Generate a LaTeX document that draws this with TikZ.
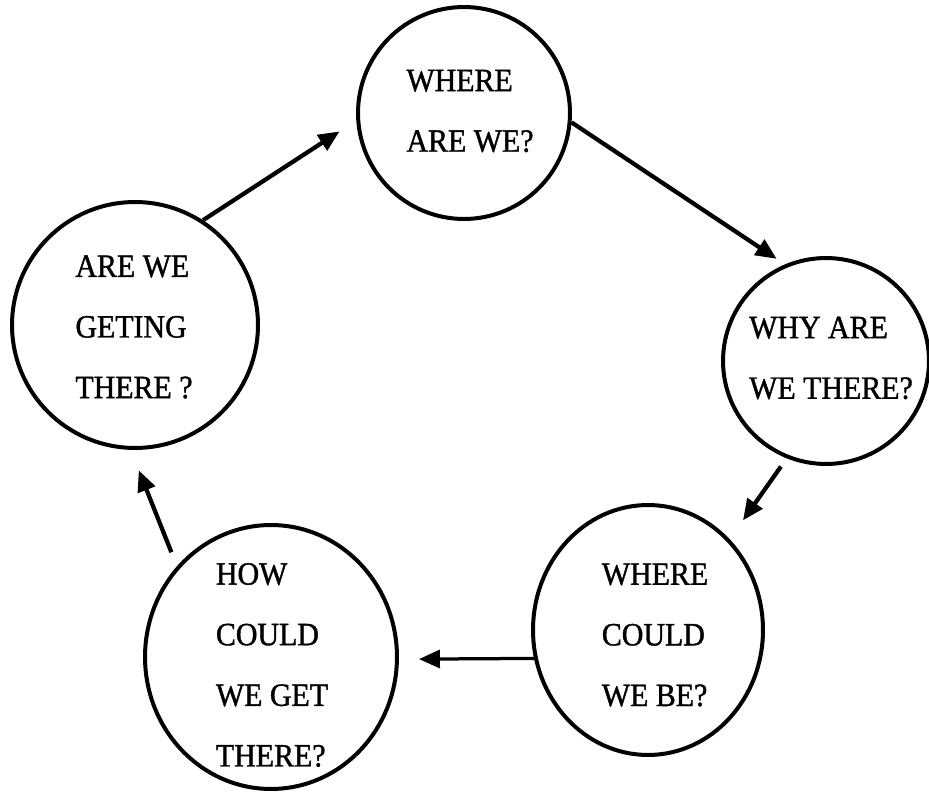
\documentclass[tikz,border=0pt]{standalone}
\usepackage{fontspec}
\setmainfont{Liberation Serif}
\newfontfamily\bubblefont{Liberation Serif}[FakeBold=1.2,FakeStretch=0.92]
\usetikzlibrary{arrows.meta,shapes.geometric}
\begin{document}
\begin{tikzpicture}[x=0.02cm,y=-0.02cm,>={Triangle[length=0.42cm,width=0.36cm]},
  bubble/.style={draw,ellipse,line width=0.08cm,inner sep=0pt},
  words/.style={align=left,inner sep=0pt,font=\bubblefont\fontsize{18.5}{34.5}\selectfont},
  link/.style={->,line width=0.085cm}]
\useasboundingbox (0,0) rectangle (929,793);
% 圆圈
\node[bubble,minimum width=4.24cm,minimum height=4.24cm] (where) at (464,113) {};
\node[bubble,minimum width=4.12cm,minimum height=4.12cm] (why) at (826,361) {};
\node[bubble,minimum width=4.6cm,minimum height=5.0cm] (could) at (648,630) {};
\node[bubble,minimum width=5.04cm,minimum height=5.28cm] (how) at (271,657) {};
\node[bubble,minimum width=4.92cm,minimum height=4.92cm] (getting) at (135,325) {};
% 文字
\node[words] (whereText) at (470,111) {WHERE\\ARE WE?};
\node[words] (whyText) at (831,358) {WHY ARE\\WE THERE?};
\node[words] (couldText) at (655,635) {WHERE\\COULD\\WE BE?};
\node[words] (howText) at (272,665) {HOW\\COULD\\WE GET\\THERE?};
\node[words] (gettingText) at (134,327) {ARE WE\\GETING\\THERE ?};
% 箭头
\draw[link,shorten >=0.4cm] (getting.57) -- (where.184.5);
\draw[link,shorten >=0.2cm] (where.-5) -- (why.113);
\draw[link,shorten <=0.2cm,shorten >=0.46cm] (why.248) -- (could.48);
\draw[link,line width=0.065cm,shorten >=0.4cm] (could.194) -- (how.-1);
\draw[link,shorten <=0.3cm,shorten >=0.44cm] (how.136) -- (getting.268);
\end{tikzpicture}
\end{document}
